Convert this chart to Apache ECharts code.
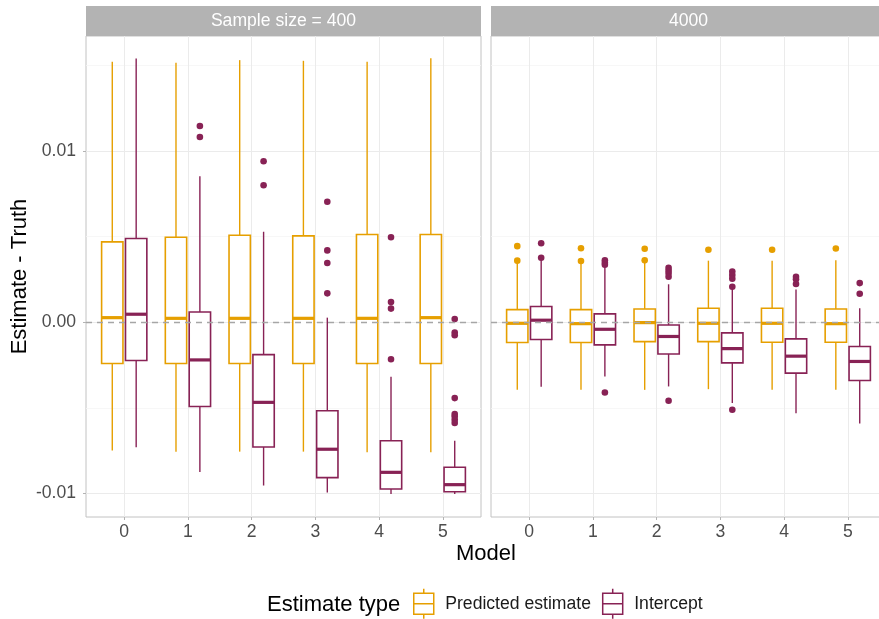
<!DOCTYPE html>
<html>
<head>
<meta charset="utf-8">
<title>Estimate - Truth by model</title>
<script src="https://cdn.jsdelivr.net/npm/echarts@6/dist/echarts.min.js"></script>
<style>
  html, body { margin: 0; padding: 0; background: #ffffff; }
  #chart { width: 879px; height: 619px; }
</style>
</head>
<body>
<div id="chart"></div>
<script>
// ---- data ---------------------------------------------------------------
const models = [0, 1, 2, 3, 4, 5];
const panelTitles = ['Sample size = 400', '4000'];
const typeNames = ['Predicted estimate', 'Intercept'];
const typeColors = ['#E69F00', '#882255'];
const yTickValues = [-0.01, 0, 0.01];
const yMinorValues = [-0.005, 0.005, 0.015];

// box summaries per model: [lower whisker, Q1, median, Q3, upper whisker]
const predicted400 = [
  [-0.00750, -0.00241, 0.00027, 0.00470, 0.01522],
  [-0.00756, -0.00241, 0.00023, 0.00497, 0.01516],
  [-0.00756, -0.00241, 0.00023, 0.00509, 0.01532],
  [-0.00756, -0.00241, 0.00023, 0.00505, 0.01528],
  [-0.00760, -0.00241, 0.00023, 0.00513, 0.01522],
  [-0.00760, -0.00241, 0.00027, 0.00513, 0.01543]
];
const intercept400 = [
  [-0.00731, -0.00223, 0.00047, 0.00490, 0.01541],
  [-0.00875, -0.00492, -0.00220, 0.00060, 0.00853],
  [-0.00954, -0.00729, -0.00468, -0.00189, 0.00529],
  [-0.00995, -0.00908, -0.00742, -0.00517, 0.00027],
  [-0.01003, -0.00974, -0.00877, -0.00692, -0.00319],
  [-0.01003, -0.00990, -0.00949, -0.00847, -0.00692]
];
const predicted4000 = [
  [-0.00395, -0.00118, -0.00006, 0.00074, 0.00348],
  [-0.00395, -0.00118, -0.00008, 0.00074, 0.00345],
  [-0.00395, -0.00113, -0.00002, 0.00078, 0.00348],
  [-0.00391, -0.00113, -0.00006, 0.00082, 0.00360],
  [-0.00395, -0.00117, -0.00006, 0.00082, 0.00360],
  [-0.00395, -0.00117, -0.00008, 0.00078, 0.00362]
];
const intercept4000 = [
  [-0.00377, -0.00101, 0.00012, 0.00092, 0.00362],
  [-0.00317, -0.00132, -0.00041, 0.00049, 0.00322],
  [-0.00375, -0.00185, -0.00083, -0.00016, 0.00222],
  [-0.00472, -0.00237, -0.00154, -0.00062, 0.00195],
  [-0.00531, -0.00297, -0.00198, -0.00097, 0.00192],
  [-0.00591, -0.00340, -0.00229, -0.00142, 0.00082]
];

// outlying runs: [model, value]
const predictedOut400 = [];
const interceptOut400 = [
  [1, 0.01147], [1, 0.01083],
  [2, 0.00941], [2, 0.00801],
  [3, 0.00704], [3, 0.00420], [3, 0.00346], [3, 0.00169],
  [4, 0.00497], [4, 0.00118], [4, 0.00080], [4, -0.00216],
  [5, 0.00019], [5, -0.00060], [5, -0.00076], [5, -0.00443],
  [5, -0.00536], [5, -0.00550], [5, -0.00570], [5, -0.00589]
];
const predictedOut4000 = [
  [0, 0.00445], [0, 0.00360],
  [1, 0.00433], [1, 0.00358],
  [2, 0.00430], [2, 0.00362],
  [3, 0.00424],
  [4, 0.00424],
  [5, 0.00431]
];
const interceptOut4000 = [
  [0, 0.00462], [0, 0.00377],
  [1, 0.00362], [1, 0.00348], [1, 0.00336], [1, -0.00410],
  [2, 0.00319], [2, 0.00303], [2, 0.00286], [2, 0.00266], [2, -0.00459],
  [3, 0.00296], [3, 0.00276], [3, 0.00255], [3, 0.00208], [3, -0.00511],
  [4, 0.00266], [4, 0.00251], [4, 0.00224],
  [5, 0.00229], [5, 0.00167]
];

// ---- layout / style -----------------------------------------------------
const FONT = '"Liberation Sans", Arial, Helvetica, sans-serif';
const Y_MIN = -0.01138, Y_MAX = 0.01673;
const X_MIN = -0.6, X_MAX = 5.6;
const DODGE = [-0.1875, 0.1875];
const BOX_W = 0.335;
const GRID_MAJOR = '#ebebeb', GRID_MINOR = '#f5f5f5', BORDER = '#c2c2c2';

const panels = [
  { title: panelTitles[0], boxes: [predicted400, intercept400], outs: [predictedOut400, interceptOut400] },
  { title: panelTitles[1], boxes: [predicted4000, intercept4000], outs: [predictedOut4000, interceptOut4000] }
];
// the second panel runs a little past the right edge of the canvas
const gridRects = [
  { left: 86, top: 36, width: 395, height: 481 },
  { left: 491, top: 36, width: 395, height: 481 }
];

function boxRenderer(dodge) {
  return function (params, api) {
    const x = api.value(0) + dodge;
    const lo = api.coord([x, api.value(1)]);
    const q1 = api.coord([x, api.value(2)]);
    const md = api.coord([x, api.value(3)]);
    const q3 = api.coord([x, api.value(4)]);
    const hi = api.coord([x, api.value(5)]);
    const half = api.size([BOX_W, 0])[0] / 2;
    const c = api.visual('color');
    const cx = lo[0];
    return {
      type: 'group',
      children: [
        { type: 'line', shape: { x1: cx, y1: hi[1], x2: cx, y2: q3[1] }, style: { stroke: c, lineWidth: 1.4 } },
        { type: 'line', shape: { x1: cx, y1: q1[1], x2: cx, y2: lo[1] }, style: { stroke: c, lineWidth: 1.4 } },
        { type: 'rect', shape: { x: cx - half, y: q3[1], width: half * 2, height: q1[1] - q3[1] },
          style: { fill: '#ffffff', stroke: c, lineWidth: 1.6 } },
        { type: 'line', shape: { x1: cx - half, y1: md[1], x2: cx + half, y2: md[1] }, style: { stroke: c, lineWidth: 3.2 } }
      ]
    };
  };
}
function pointRenderer(dodge) {
  return function (params, api) {
    const p = api.coord([api.value(0) + dodge, api.value(1)]);
    return { type: 'circle', shape: { cx: p[0], cy: p[1], r: 3.3 }, style: { fill: api.visual('color') } };
  };
}

const grids = [], xAxes = [], yAxes = [], series = [], graphics = [];

panels.forEach(function (panel, pi) {
  const r = gridRects[pi];
  grids.push({ left: r.left, top: r.top, width: r.width, height: r.height,
    outerBoundsMode: 'none', containLabel: false,
    show: true, backgroundColor: '#ffffff', borderColor: BORDER, borderWidth: 1 });

  xAxes.push({
    type: 'value', gridIndex: pi, min: X_MIN, max: X_MAX, position: 'bottom',
    axisLine: { show: false, onZero: false },
    axisTick: { show: true, length: 3, lineStyle: { color: '#b3b3b3' }, customValues: models },
    axisLabel: { show: true, customValues: models, margin: 6, color: '#4d4d4d', fontSize: 17.6, fontFamily: FONT,
      formatter: function (v) { return String(v); } },
    splitLine: { show: true, lineStyle: { color: GRID_MAJOR, width: 1 } }
  });

  // major y grid + labels
  yAxes.push({
    type: 'value', gridIndex: pi, min: Y_MIN, max: Y_MAX, position: 'left',
    axisLine: { show: false, onZero: false },
    axisTick: { show: pi === 0, length: 3, lineStyle: { color: '#b3b3b3' }, customValues: yTickValues },
    axisLabel: { show: pi === 0, customValues: yTickValues, margin: 10, color: '#4d4d4d', fontSize: 17.6, fontFamily: FONT,
      formatter: function (v) { return v.toFixed(2); } },
    splitLine: { show: true, lineStyle: { color: GRID_MAJOR, width: 1 } }
  });
  // minor y grid
  yAxes.push({
    type: 'value', gridIndex: pi, min: Y_MIN, max: Y_MAX, position: 'left',
    axisLine: { show: false, onZero: false },
    axisTick: { show: false, customValues: yMinorValues },
    axisLabel: { show: false, customValues: yMinorValues },
    splitLine: { show: true, lineStyle: { color: GRID_MINOR, width: 0.8 } }
  });

  // reference line at zero, drawn beneath the boxes
  series.push({
    type: 'line', xAxisIndex: pi, yAxisIndex: pi * 2, data: [], silent: true, z: 1,
    markLine: {
      silent: true, symbol: 'none', label: { show: false },
      lineStyle: { color: '#a6a6a6', type: [6, 5], width: 1.3 },
      data: [{ yAxis: 0 }]
    }
  });

  [0, 1].forEach(function (ti) {
    const boxData = panel.boxes[ti].map(function (s, mi) { return [models[mi]].concat(s); });
    series.push({
      type: 'custom', name: typeNames[ti], xAxisIndex: pi, yAxisIndex: pi * 2, z: 3,
      itemStyle: { color: typeColors[ti], borderColor: typeColors[ti] },
      renderItem: boxRenderer(DODGE[ti]),
      encode: { x: 0, y: [1, 2, 3, 4, 5] },
      data: boxData
    });
    series.push({
      type: 'custom', name: typeNames[ti], xAxisIndex: pi, yAxisIndex: pi * 2, z: 4,
      itemStyle: { color: typeColors[ti], borderColor: typeColors[ti] },
      renderItem: pointRenderer(DODGE[ti]),
      encode: { x: 0, y: 1 },
      data: panel.outs[ti]
    });
  });

  // facet strip
  graphics.push({
    type: 'rect', left: r.left, top: 6, z: 10,
    shape: { width: r.width, height: 30 },
    style: { fill: '#b3b3b3' }
  });
  graphics.push({
    type: 'text', z: 11, x: r.left + r.width / 2, y: 21.5,
    style: { text: panel.title, fill: '#ffffff', font: '17.6px ' + FONT, align: 'center', verticalAlign: 'middle' }
  });
});

// axis titles and legend title
graphics.push({
  type: 'text', x: 486, y: 554,
  style: { text: 'Model', fill: '#000000', font: '22px ' + FONT, align: 'center', verticalAlign: 'middle' }
});
graphics.push({
  type: 'text', x: 20, y: 276.5, rotation: Math.PI / 2,
  style: { text: 'Estimate - Truth', fill: '#000000', font: '22px ' + FONT, align: 'center', verticalAlign: 'middle' }
});
graphics.push({
  type: 'text', x: 267, y: 605,
  style: { text: 'Estimate type', fill: '#000000', font: '22px ' + FONT, align: 'left', verticalAlign: 'middle' }
});

const BOX_ICON = 'path://M10,0L10,4.5M0,4.5L20,4.5L20,25.5L0,25.5ZM0,15L20,15M10,25.5L10,30';

const option = {
  animation: false,
  backgroundColor: '#ffffff',
  textStyle: { fontFamily: FONT },
  grid: grids,
  xAxis: xAxes,
  yAxis: yAxes,
  legend: {
    left: 413, top: 588, padding: 0,
    itemWidth: 21, itemHeight: 30, itemGap: 11,
    selectedMode: false,
    textStyle: { fontSize: 17.6, color: '#1a1a1a', fontFamily: FONT, padding: [0, 0, 0, 6] },
    data: typeNames.map(function (n, i) {
      return { name: n, icon: BOX_ICON,
        itemStyle: { color: '#ffffff', borderColor: typeColors[i], borderWidth: 1.5 } };
    })
  },
  graphic: graphics,
  series: series
};

const chart = echarts.init(document.getElementById('chart'), null, { renderer: 'canvas' });
chart.setOption(option);
</script>
</body>
</html>
